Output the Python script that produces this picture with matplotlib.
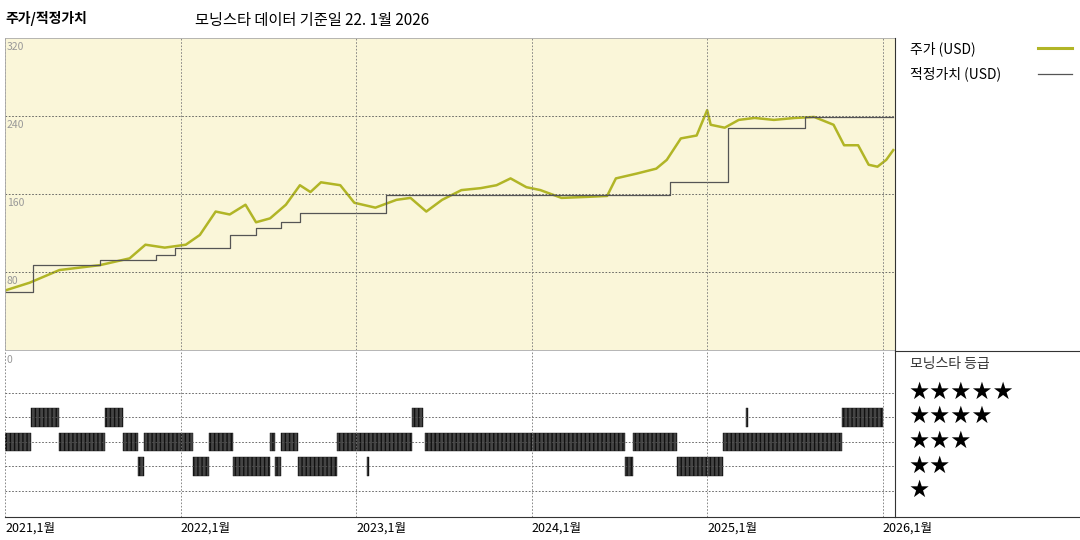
import matplotlib.pyplot as plt
import numpy as np

plt.rcParams['font.family'] = ['Noto Sans CJK KR', 'DejaVu Sans']

# 주가 (USD) - 연도(소수), 가격
price_t = [2021.00, 2021.14, 2021.31, 2021.54, 2021.71, 2021.80, 2021.91, 2022.03, 2022.11,
           2022.20, 2022.28, 2022.37, 2022.43, 2022.51, 2022.60, 2022.68, 2022.74, 2022.80,
           2022.91, 2022.99, 2023.11, 2023.23, 2023.31, 2023.40, 2023.49, 2023.60, 2023.71,
           2023.80, 2023.88, 2023.97, 2024.05, 2024.17, 2024.31, 2024.43, 2024.48, 2024.60,
           2024.71, 2024.77, 2024.85, 2024.94, 2025.00, 2025.02, 2025.10, 2025.18, 2025.27,
           2025.38, 2025.50, 2025.61, 2025.72, 2025.78, 2025.86, 2025.92, 2025.97, 2026.02,
           2026.06]
price_v = [61, 69, 82, 87, 94, 108, 105, 108, 118, 142, 139, 149, 131, 135, 149, 169, 162,
           172, 169, 151, 146, 154, 156, 142, 154, 164, 166, 169, 176, 167, 164, 156, 157,
           158, 176, 181, 186, 195, 217, 220, 246, 231, 228, 236, 238, 236, 238, 239, 231,
           210, 210, 190, 188, 195, 205]

# 적정가치 (USD)
fair_t = [2021.00, 2021.16, 2021.54, 2021.86, 2021.97, 2022.28, 2022.43, 2022.57, 2022.68,
          2023.17, 2024.62, 2024.79, 2025.12, 2025.56, 2026.06]
fair_v = [60, 87, 92, 97, 105, 118, 125, 131, 141, 159, 159, 172, 228, 239, 239]

# 모닝스타 등급 구간 (시작, 끝, 별 개수)
rating_start = [2021.00, 2021.15, 2021.31, 2021.57, 2021.67, 2021.76, 2021.79, 2022.07,
                2022.16, 2022.30, 2022.51, 2022.54, 2022.57, 2022.67, 2022.89, 2023.065,
                2023.32, 2023.39, 2023.45, 2024.53, 2024.58, 2024.83, 2025.09, 2025.22,
                2025.77]
rating_end = [2021.15, 2021.31, 2021.57, 2021.67, 2021.76, 2021.79, 2022.07, 2022.16,
              2022.30, 2022.51, 2022.54, 2022.57, 2022.67, 2022.89, 2023.32, 2023.075,
              2023.38, 2023.45, 2024.53, 2024.58, 2024.83, 2025.09, 2025.77, 2025.23,
              2026.00]
rating_star = [3, 4, 3, 4, 3, 2, 3, 2, 3, 2, 3, 2, 3, 2, 3, 2, 4, 3, 3, 2, 3, 2, 3, 4, 4]

years = [2021, 2022, 2023, 2024, 2025, 2026]
olive = '#b1b526'

fig = plt.figure(figsize=(10.8, 5.4), dpi=100)
W, H = 1080, 540

ax1 = fig.add_axes([5 / W, (H - 350) / H, 890 / W, 312 / H])
ax1.set_facecolor('#faf6d9')
ax1.plot(price_t, price_v, color=olive, lw=1.8)
ax1.plot(fair_t, fair_v, color='#555555', lw=0.9, drawstyle='steps-post')
ax1.set_xlim(2021.0, 2026.07)
ax1.set_ylim(0, 320)
for yv in [80, 160, 240]:
    ax1.axhline(yv, color='#555555', ls=(0, (2, 2)), lw=0.6)
for yr in years:
    ax1.axvline(yr, color='#777777', ls=(0, (2, 2)), lw=0.6)
for yv in [80, 160, 240, 320]:
    ax1.text(2021.01, yv - 4, str(yv), color='#999999', fontsize=7.5, va='top', ha='left')
ax1.set_xticks([])
ax1.set_yticks([])
for s in ax1.spines.values():
    s.set_color('#aaaaaa')
    s.set_linewidth(0.6)

ax2 = fig.add_axes([5 / W, (H - 517) / H, 890 / W, 165 / H])
ax2.set_xlim(2021.0, 2026.07)
ax2.set_ylim(-0.06, 6.67)
for r in range(1, 6):
    ax2.axhline(r, color='#555555', ls=(0, (2, 2)), lw=0.6)
for yr in years:
    ax2.axvline(yr, color='#777777', ls=(0, (2, 2)), lw=0.6)
for a, b, r in zip(rating_start, rating_end, rating_star):
    ax2.broken_barh([(a, b - a)], (r - 0.38, 0.76), facecolor='#444444',
                    edgecolor='#111111', hatch='||||', lw=0.3)
ax2.text(2021.01, 6.55, '0', color='#999999', fontsize=7.5, va='top')
ax2.set_xticks([])
ax2.set_yticks([])
for s in ax2.spines.values():
    s.set_visible(False)
ax2.spines['bottom'].set_visible(True)
ax2.spines['bottom'].set_color('#333333')
for yr in years:
    ax2.text(yr, -0.25, f'{yr},1월', fontsize=9, va='top', ha='left')

# 오른쪽 패널
fig.add_artist(plt.Line2D([895 / W, 895 / W], [(H - 38) / H, (H - 517) / H],
                          color='#333333', lw=0.8, transform=fig.transFigure))
fig.add_artist(plt.Line2D([895 / W, 1080 / W], [(H - 351) / H, (H - 351) / H],
                          color='#333333', lw=0.8, transform=fig.transFigure))
fig.add_artist(plt.Line2D([895 / W, 1080 / W], [(H - 517) / H, (H - 517) / H],
                          color='#333333', lw=0.8, transform=fig.transFigure))
fig.text(910 / W, (H - 49) / H, '주가 (USD)', fontsize=10, va='center')
fig.add_artist(plt.Line2D([1038 / W, 1072 / W], [(H - 48) / H, (H - 48) / H],
                          color=olive, lw=2.2, transform=fig.transFigure))
fig.text(910 / W, (H - 74) / H, '적정가치 (USD)', fontsize=10, va='center')
fig.add_artist(plt.Line2D([1038 / W, 1072 / W], [(H - 74) / H, (H - 74) / H],
                          color='#555555', lw=0.9, transform=fig.transFigure))
fig.text(910 / W, (H - 364) / H, '모닝스타 등급', fontsize=10, va='center', color='#333333')
for r, py in zip([5, 4, 3, 2, 1], [392, 416, 441, 466, 490]):
    fig.text(908 / W, (H - py) / H, '★' * r, fontsize=17, va='center', family='DejaVu Sans')

fig.text(5 / W, (H - 18) / H, '주가/적정가치', fontsize=10, fontweight='bold', va='center')
fig.text(195 / W, (H - 20) / H, '모닝스타 데이터 기준일 22. 1월 2026', fontsize=11, va='center')

fig.savefig('out.png', dpi=100)
